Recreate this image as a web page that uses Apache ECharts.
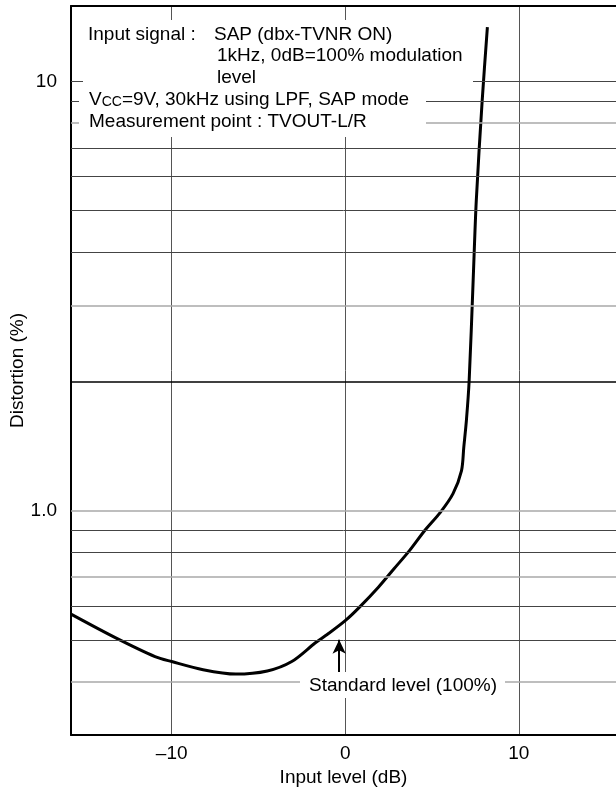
<!DOCTYPE html>
<html lang="en">
<head>
    <meta charset="utf-8">
    <title>Distortion vs input level</title>
    <script src="https://cdn.jsdelivr.net/npm/echarts@6/dist/echarts.min.js"></script>
    <style>
        html, body { margin: 0; padding: 0; background: #fff; }
        #chart { width: 616px; height: 787px; }
    </style>
</head>
<body>
<div id="chart"></div>
<script type="text/javascript">
    // curve
    var inputLevel = [-15.8, -13.25, -10.96, -10, -8.19, -6.31, -4.49, -3.08, -1.72, -1.02, 0, 0.81, 1.91, 2.81, 3.70, 4.57, 5.48, 6.21, 6.70, 6.83, 6.98, 7.14, 7.37, 7.55, 7.89, 8.19];
    var distortion = [0.574, 0.506, 0.457, 0.445, 0.426, 0.416, 0.423, 0.445, 0.492, 0.515, 0.554, 0.595, 0.663, 0.732, 0.807, 0.898, 0.991, 1.096, 1.24, 1.405, 1.62, 2.01, 3.44, 5.28, 9.03, 13.39];

    // horizontal grid lines of the log paper
    var gridValues = [0.4, 0.5, 0.6, 0.7, 0.8, 0.9, 1, 2, 3, 4, 5, 6, 7, 8, 9, 10];
    var lightGrid = [0.4, 0.7, 1, 3, 8];
    var heavyGrid = [2];

    // "Standard level" arrow
    var arrowX = [-0.35, -0.35];
    var arrowY = [0.42, 0.5];

    var FONT = "'Liberation Sans', Arial, sans-serif";

    var points = inputLevel.map(function (x, i) { return [x, distortion[i]]; });

    var gridLines = gridValues.map(function (v) {
        var style = { color: '#444', width: 1, type: 'solid' };
        if (lightGrid.indexOf(v) >= 0) style = { color: '#a8a8a8', width: 1.6, type: 'solid' };
        if (heavyGrid.indexOf(v) >= 0) style = { color: '#000', width: 1.6, type: 'solid' };
        return { yAxis: v, lineStyle: style };
    });

    var myChart = echarts.init(document.getElementById('chart'));

    var option = {
        backgroundColor: '#fff',
        animation: false,
        textStyle: { fontFamily: FONT },
        grid: { left: 71, top: 6, right: 0, bottom: 52, containLabel: false, outerBoundsMode: 'none' },
        xAxis: [{
            type: 'value',
            min: -15.8,
            max: 15.6,
            splitNumber: 3,
            name: 'Input level (dB)',
            nameLocation: 'middle',
            nameGap: 33,
            nameMoveOverlap: false,
            nameTextStyle: { color: '#000', fontSize: 19, fontFamily: FONT },
            axisLine: { show: true, onZero: false, lineStyle: { color: '#000', width: 2 } },
            axisTick: { show: false },
            axisLabel: {
                color: '#000', fontSize: 19, fontFamily: FONT, margin: 9,
                showMinLabel: false, showMaxLabel: false,
                formatter: function (v) {
                    if (Math.abs(v % 10) > 1e-6) return '';
                    return v < 0 ? '\u2013' + Math.abs(v) : String(v);
                }
            },
            splitLine: { show: true, showMinLine: false, showMaxLine: false, lineStyle: { color: '#555', width: 1 } }
        }, {
            type: 'value',
            position: 'top',
            min: -15.8,
            max: 15.6,
            axisLine: { show: true, onZero: false, lineStyle: { color: '#000', width: 2 } },
            axisTick: { show: false },
            axisLabel: { show: false },
            splitLine: { show: false }
        }],
        yAxis: {
            type: 'log',
            logBase: 10,
            min: 0.3,
            max: 15,
            name: 'Distortion (%)',
            nameLocation: 'middle',
            nameGap: 44,
            nameMoveOverlap: false,
            nameTextStyle: { color: '#000', fontSize: 19, fontFamily: FONT },
            axisLine: { show: true, onZero: false, lineStyle: { color: '#000', width: 2 } },
            axisTick: { show: false },
            axisLabel: {
                color: '#000', fontSize: 19, fontFamily: FONT, margin: 14,
                formatter: function (v) {
                    if (Math.abs(v - 1) < 1e-6) return '1.0';
                    if (Math.abs(v - 10) < 1e-6) return '10';
                    return '';
                }
            },
            splitLine: { show: false }
        },
        series: [{
            name: 'grid',
            type: 'line',
            data: [],
            z: 1,
            silent: true,
            markLine: {
                silent: true,
                symbol: ['none', 'none'],
                label: { show: false },
                animation: false,
                data: gridLines
            }
        }, {
            name: 'Distortion',
            type: 'line',
            data: points,
            z: 3,
            smooth: 0.3,
            showSymbol: false,
            clip: true,
            lineStyle: { color: '#000', width: 3 },
            markLine: {
                silent: true,
                symbol: ['none', 'arrow'],
                symbolSize: [10, 14],
                label: { show: false },
                lineStyle: { color: '#000', width: 2, type: 'solid' },
                data: [[{ coord: [arrowX[0], arrowY[0]] }, { coord: [arrowX[1], arrowY[1]] }]]
            }
        }],
        graphic: {
            elements: [
                { type: 'rect', z: 100, shape: { x: 83, y: 20, width: 390, height: 72 }, style: { fill: '#fff' } },
                { type: 'rect', z: 100, shape: { x: 79, y: 92, width: 347, height: 45 }, style: { fill: '#fff' } },
                { type: 'rect', z: 100, shape: { x: 300, y: 672, width: 205, height: 26 }, style: { fill: '#fff' } },
                { type: 'text', z: 101, x: 88, y: 35, style: { text: 'Input signal :', font: '19px ' + FONT, fill: '#000', verticalAlign: 'middle' } },
                { type: 'text', z: 101, x: 214, y: 35, style: { text: 'SAP (dbx-TVNR ON)', font: '19px ' + FONT, fill: '#000', verticalAlign: 'middle' } },
                { type: 'text', z: 101, x: 217, y: 56, style: { text: '1kHz, 0dB=100% modulation', font: '19px ' + FONT, fill: '#000', verticalAlign: 'middle' } },
                { type: 'text', z: 101, x: 217, y: 78, style: { text: 'level', font: '19px ' + FONT, fill: '#000', verticalAlign: 'middle' } },
                { type: 'text', z: 101, x: 89, y: 100, style: {
                    text: '{v|V}{s|CC}{v|=9V, 30kHz using LPF, SAP mode}',
                    verticalAlign: 'middle',
                    rich: {
                        v: { fontSize: 19, fontFamily: FONT, fill: '#000' },
                        s: { fontSize: 14, fontFamily: FONT, fill: '#000', verticalAlign: 'bottom', padding: [3, 0, 0, 0] }
                    }
                } },
                { type: 'text', z: 101, x: 89, y: 122, style: { text: 'Measurement point : TVOUT-L/R', font: '19px ' + FONT, fill: '#000', verticalAlign: 'middle' } },
                { type: 'text', z: 101, x: 403, y: 686, style: { text: 'Standard level (100%)', font: '19px ' + FONT, fill: '#000', align: 'center', verticalAlign: 'middle' } }
            ]
        }
    };

    myChart.setOption(option);
</script>
</body>
</html>
